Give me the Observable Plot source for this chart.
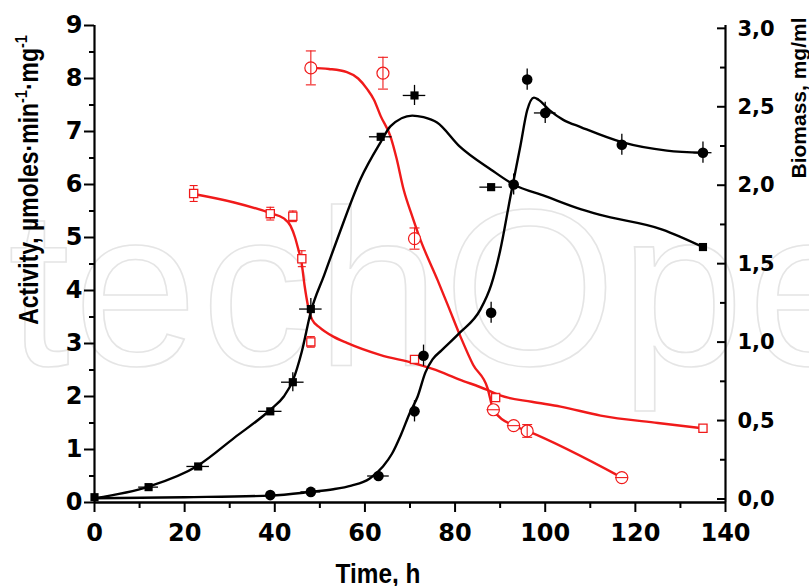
<!DOCTYPE html>
<html><head><meta charset="utf-8">
<script src="https://cdn.jsdelivr.net/npm/d3@7"></script>
<script src="https://cdn.jsdelivr.net/npm/@observablehq/plot@0.6"></script>
<style>body{margin:0;background:#fff} svg{display:block;background:#fff}</style>
</head><body><div id="chart"></div>
<script>
// ---- Black filled squares (measured points) ----
const sqT    = [0, 12, 23, 39, 44, 48, 63.5, 71, 88, 135];
const sqV    = [0.1, 0.29, 0.68, 1.72, 2.27, 3.65, 6.9, 7.68, 5.95, 4.82];
const sqXErr = [0, 2.2, 2.5, 2.6, 2.5, 2.5, 2.5, 2.5, 2.5, 0];
const sqYErr = [0, 0, 0, 0, 0.18, 0.2, 0, 0.19, 0, 0];
// fitted curve
const sqFitT = [0, 12, 23, 31, 39, 42, 44, 46, 48, 51, 54, 59, 63.5, 65.7, 70.5, 73, 76, 81, 88, 93, 100, 108, 112, 126, 135];
const sqFitV = [0.08, 0.3, 0.7, 1.22, 1.75, 2.0, 2.3, 2.85, 3.6, 4.3, 5.0, 6.1, 6.8, 7.1, 7.3, 7.27, 7.17, 6.72, 6.28, 6.0, 5.78, 5.53, 5.43, 5.15, 4.82];

// ---- Black filled circles ----
const ciT    = [39, 48, 63, 71, 73, 88, 93, 96, 100, 117, 135];
const ciV    = [0.14, 0.2, 0.5, 1.72, 2.77, 3.58, 6.0, 7.98, 7.35, 6.75, 6.6];
const ciXErr = [0, 2.2, 2.4, 0, 0, 0, 0, 0, 2.4, 0, 2.0];
const ciYErr = [0, 0, 0, 0.2, 0.2, 0.2, 0.2, 0.2, 0.2, 0.2, 0.2];
const ciFitT = [0, 20, 39, 48, 53, 57, 61, 64, 66, 68, 70, 71.7, 73.4, 75, 77, 81, 85.6, 88, 90, 92.3, 94.5, 96, 97.5, 98.5, 101, 104, 108, 117, 127, 135];
const ciFitV = [0.08, 0.1, 0.13, 0.2, 0.25, 0.32, 0.45, 0.68, 0.92, 1.28, 1.7, 2.0, 2.45, 2.7, 2.87, 3.2, 3.64, 4.1, 4.75, 5.78, 6.73, 7.4, 7.64, 7.6, 7.4, 7.22, 7.08, 6.8, 6.64, 6.6];

// ---- Red open squares ----
const rsT    = [22, 39, 44, 46, 48, 71, 89, 135];
const rsV    = [5.83, 5.45, 5.4, 4.6, 3.03, 2.7, 1.98, 1.4];
const rsYErr = [0.15, 0.12, 0.1, 0.15, 0.1, 0.05, 0.05, 0.03];
const rsFitT = [22, 31, 39, 42, 43.5, 44.5, 45.3, 45.9, 46.6, 47.4, 48.3, 50, 53, 56, 63.5, 70.8, 75, 81, 87, 90, 97, 103.4, 112.3, 125, 135];
const rsFitV = [5.82, 5.66, 5.46, 5.36, 5.22, 5.0, 4.75, 4.55, 4.1, 3.7, 3.45, 3.3, 3.13, 3.01, 2.78, 2.63, 2.52, 2.32, 2.13, 2.02, 1.9, 1.81, 1.64, 1.5, 1.4];

// ---- Red open circles ----
const rcT    = [48, 64, 71, 88.5, 93, 96, 117];
const rcV    = [8.2, 8.1, 4.98, 1.75, 1.45, 1.35, 0.47];
const rcXErr = [0, 0, 0, 1.4, 1.4, 0, 1.4];
const rcYErr = [0.32, 0.3, 0.2, 0, 0, 0.12, 0];
const rcFitT = [48, 52, 56, 58.5, 60.5, 62, 63.5, 65.7, 67, 68.6, 70.5, 72.3, 76.1, 78.5, 81.2, 84, 87.2, 88.5, 93, 96, 117];
const rcFitV = [8.2, 8.18, 8.12, 8.0, 7.8, 7.6, 7.29, 6.9, 6.5, 5.9, 5.4, 4.96, 4.2, 3.7, 3.13, 2.6, 2.16, 1.75, 1.45, 1.35, 0.47];

// ---- Axes ticks ----
const xTicks = [0, 20, 40, 60, 80, 100, 120, 140];
const xMinor = [10, 30, 50, 70, 90, 110, 130];
const yTicks = [0, 1, 2, 3, 4, 5, 6, 7, 8, 9];
const yMinor = [0.5, 1.5, 2.5, 3.5, 4.5, 5.5, 6.5, 7.5, 8.5];
const rTicks = [0, 0.5, 1.0, 1.5, 2.0, 2.5, 3.0];
const rMinor = [0.25, 0.75, 1.25, 1.75, 2.25, 2.75];
const rScale = 2.96, rOffset = 0.057; // biomass -> activity axis units

const zip = (T, V, ex = {}) => T.map((t, i) => {
  const o = {t, v: V[i]};
  for (const k in ex) o[k] = ex[k][i];
  return o;
});
const bSq = zip(sqT, sqV, {xe: sqXErr, ye: sqYErr});
const bCi = zip(ciT, ciV, {xe: ciXErr, ye: ciYErr});
const rSq = zip(rsT, rsV, {ye: rsYErr});
const rCi = zip(rcT, rcV, {xe: rcXErr, ye: rcYErr});

const RED = "#f01a1a";
const tickFont = {fontFamily: "DejaVu Sans", fontWeight: "bold"};
const hline = {draw(ctx, size) { const w = Math.sqrt(size / Math.PI); ctx.moveTo(-w, 0); ctx.lineTo(w, 0); }};

const chart = Plot.plot({
  width: 809, height: 586,
  marginLeft: 94, marginRight: 84, marginTop: 25, marginBottom: 84,
  x: {domain: [0, 140]},
  y: {domain: [0, 9]},
  marks: [
    // axes
    Plot.axisX(xTicks, {tickSize: 10, tickPadding: 11, strokeWidth: 2, fontSize: 24, ...tickFont, label: null, tickFormat: d => String(d)}),
    Plot.axisX(xMinor, {tickSize: 6, strokeWidth: 2, tickFormat: () => "", label: null}),
    Plot.axisY(yTicks, {tickSize: 10, tickPadding: 2, strokeWidth: 2, fontSize: 24, ...tickFont, label: null, tickFormat: d => String(d)}),
    Plot.axisY(yMinor, {tickSize: 5, strokeWidth: 2, tickFormat: () => "", label: null}),
    Plot.axisY(rTicks.map(r => rOffset + r * rScale), {anchor: "right", tickSize: 0, tickPadding: 12, fontSize: 21, ...tickFont, label: null,
      tickFormat: d => (Math.round((d - rOffset) / rScale * 2) / 2).toFixed(1).replace(".", ",")}),
    Plot.ruleX([0, 140], {strokeWidth: 2.2}),
    Plot.ruleY([0], {strokeWidth: 2.4}),
    // fitted curves
    Plot.line(zip(rsFitT, rsFitV), {x: "t", y: "v", curve: "monotone-x", stroke: RED, strokeWidth: 2.4}),
    Plot.line(zip(rcFitT, rcFitV), {x: "t", y: "v", curve: "monotone-x", stroke: RED, strokeWidth: 2.4}),
    Plot.line(zip(sqFitT, sqFitV), {x: "t", y: "v", curve: "monotone-x", stroke: "black", strokeWidth: 2.4}),
    Plot.line(zip(ciFitT, ciFitV), {x: "t", y: "v", curve: "monotone-x", stroke: "black", strokeWidth: 2.4}),
    // red squares: error bars then symbols
    Plot.ruleX(rSq, {x: "t", y1: d => d.v - d.ye, y2: d => d.v + d.ye, stroke: RED, strokeWidth: 1.1}),
    Plot.dot(rSq, {x: "t", y: d => d.v - d.ye, symbol: hline, r: 4, stroke: RED, strokeWidth: 1.1}),
    Plot.dot(rSq, {x: "t", y: d => d.v + d.ye, symbol: hline, r: 4, stroke: RED, strokeWidth: 1.1}),
    Plot.dot(rSq, {x: "t", y: "v", symbol: "square", r: 4.6, stroke: RED, fill: "white", strokeWidth: 1.3}),
    // red circles: symbols then error bars
    Plot.dot(rCi, {x: "t", y: "v", symbol: "circle", r: 6, stroke: RED, fill: "white", strokeWidth: 1.2}),
    Plot.ruleX(rCi.filter(d => d.ye > 0), {x: "t", y1: d => d.v - d.ye, y2: d => d.v + d.ye, stroke: RED, strokeWidth: 1.1}),
    Plot.dot(rCi.filter(d => d.ye > 0), {x: "t", y: d => d.v - d.ye, symbol: hline, r: 5, stroke: RED, strokeWidth: 1.1}),
    Plot.dot(rCi.filter(d => d.ye > 0), {x: "t", y: d => d.v + d.ye, symbol: hline, r: 5, stroke: RED, strokeWidth: 1.1}),
    Plot.ruleY(rCi.filter(d => d.xe > 0), {y: "v", x1: d => d.t - d.xe, x2: d => d.t + d.xe, stroke: RED, strokeWidth: 1.1}),
    // black squares
    Plot.dot(bSq, {x: "t", y: "v", symbol: "square", r: 4.6, fill: "black"}),
    Plot.ruleY(bSq.filter(d => d.xe > 0), {y: "v", x1: d => d.t - d.xe, x2: d => d.t + d.xe, stroke: "black", strokeWidth: 1.3}),
    Plot.ruleX(bSq.filter(d => d.ye > 0), {x: "t", y1: d => d.v - d.ye, y2: d => d.v + d.ye, stroke: "black", strokeWidth: 1.3}),
    // black circles
    Plot.dot(bCi, {x: "t", y: "v", symbol: "circle", r: 5.3, fill: "black"}),
    Plot.ruleY(bCi.filter(d => d.xe > 0), {y: "v", x1: d => d.t - d.xe, x2: d => d.t + d.xe, stroke: "black", strokeWidth: 1.3}),
    Plot.ruleX(bCi.filter(d => d.ye > 0), {x: "t", y1: d => d.v - d.ye, y2: d => d.v + d.ye, stroke: "black", strokeWidth: 1.3})
  ]
});

// post-process: watermark, inward right ticks, axis titles
const svg = d3.select(chart);
const ys = chart.scale("y"), xs = chart.scale("x");
const xr = xs.apply(140);
svg.insert("text", ":first-child")
  .attr("x", 8).attr("y", 365)
  .attr("text-anchor", "start")
  .attr("font-family", "Liberation Sans, Arial, sans-serif")
  .attr("font-size", 222).attr("letter-spacing", 4)
  .attr("fill", "none").attr("stroke", "#e5e5e5").attr("stroke-width", 1.6)
  .text("techOpen");
svg.insert("rect", ":first-child").attr("width", 809).attr("height", 586).attr("fill", "white");

const rt = svg.append("g").attr("stroke", "black").attr("stroke-width", 2);
for (const r of rTicks) { const y = ys.apply(rOffset + r * rScale); rt.append("line").attr("x1", xr - 8).attr("x2", xr).attr("y1", y).attr("y2", y); }
for (const r of rMinor) { const y = ys.apply(rOffset + r * rScale); rt.append("line").attr("x1", xr - 5).attr("x2", xr).attr("y1", y).attr("y2", y); }

const titleFont = "Liberation Sans, Arial, sans-serif";
const lt = svg.append("text")
  .attr("transform", "translate(38,180) rotate(-90) scale(0.85,1)")
  .attr("text-anchor", "middle")
  .attr("font-family", titleFont).attr("font-weight", "bold").attr("font-size", 27);
lt.append("tspan").text("Activity, \u00b5moles\u00b7min");
lt.append("tspan").attr("font-size", 17).attr("dy", -11).text("-1");
lt.append("tspan").attr("dy", 11).text("\u00b7mg");
lt.append("tspan").attr("font-size", 17).attr("dy", -11).text("-1");

svg.append("text")
  .attr("transform", "translate(806,98) rotate(-90)")
  .attr("text-anchor", "middle")
  .attr("font-family", titleFont).attr("font-weight", "bold").attr("font-size", 21)
  .text("Biomass, mg/ml");

svg.append("text")
  .attr("transform", "translate(378,583) scale(0.87,1)")
  .attr("text-anchor", "middle")
  .attr("font-family", titleFont).attr("font-weight", "bold").attr("font-size", 28)
  .text("Time, h");

document.getElementById("chart").append(chart);
</script>
</body></html>
